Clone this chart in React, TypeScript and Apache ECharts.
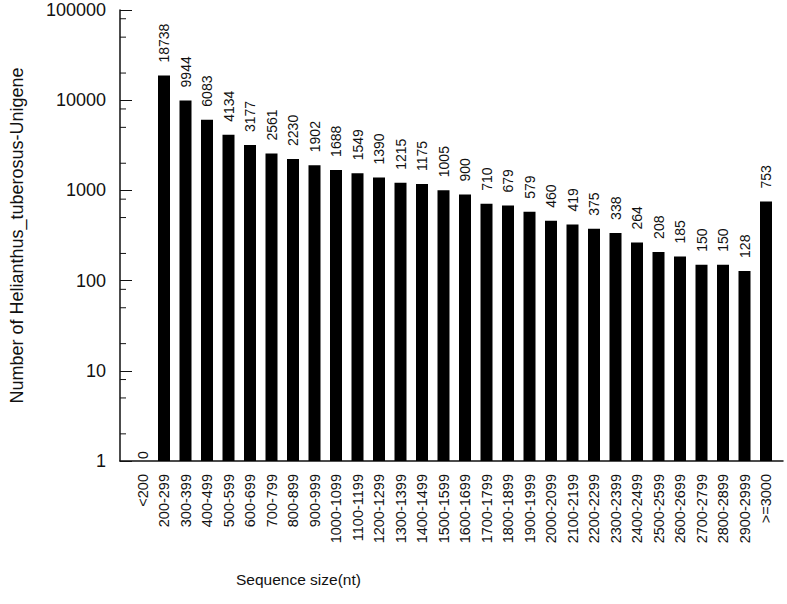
import React, { useEffect, useRef } from "react";
import * as echarts from "echarts";

const categories = [
  "<200", "200-299", "300-399", "400-499", "500-599", "600-699", "700-799",
  "800-899", "900-999", "1000-1099", "1100-1199", "1200-1299", "1300-1399",
  "1400-1499", "1500-1599", "1600-1699", "1700-1799", "1800-1899", "1900-1999",
  "2000-2099", "2100-2199", "2200-2299", "2300-2399", "2400-2499", "2500-2599",
  "2600-2699", "2700-2799", "2800-2899", "2900-2999", ">=3000",
];

const counts = [
  0, 18738, 9944, 6083, 4134, 3177, 2561, 2230, 1902, 1688, 1549, 1390, 1215,
  1175, 1005, 900, 710, 679, 579, 460, 419, 375, 338, 264, 208, 185, 150, 150,
  128, 753,
];

const minorTickValues = [
  2, 5, 8, 20, 50, 80, 200, 500, 800, 2000, 5000, 8000, 20000, 50000, 80000,
];

const yTitle = "Number of Helianthus_tuberosus-Unigene";
const xTitle = "Sequence size(nt)";

const FONT = "'Liberation Sans', Arial, Helvetica, sans-serif";
const INK = "#111";

export default function App() {
  const ref = useRef<HTMLDivElement>(null);

  useEffect(() => {
    if (!ref.current) return;
    const chart = echarts.init(ref.current, undefined, { renderer: "svg" });

    const barData = counts.map((v) =>
      v > 0 ? { value: v } : { value: 1, label: { distance: 2 } }
    );

    chart.setOption({
      animation: false,
      backgroundColor: "#fff",
      title: {
        text: xTitle,
        left: 236,
        top: 571,
        padding: 0,
        textStyle: { fontSize: 15.5, fontWeight: "normal", color: INK, fontFamily: FONT },
      },
      grid: [
        { left: 117, right: 4, top: 10, bottom: 143 },
        { left: 131.75, width: 645, top: 10, bottom: 143 },
      ],
      xAxis: [
        {
          type: "value",
          gridIndex: 0,
          min: 0,
          max: 1,
          axisLine: { show: true, onZero: false, lineStyle: { color: INK, width: 1.5 } },
          axisTick: { show: false },
          axisLabel: { show: false },
          splitLine: { show: false },
        },
        {
          type: "category",
          gridIndex: 1,
          data: categories,
          axisLine: { show: false },
          axisTick: { show: false },
          axisLabel: {
            rotate: 90,
            interval: 0,
            margin: 13,
            fontSize: 14.5,
            color: INK,
            fontFamily: FONT,
          },
          splitLine: { show: false },
        },
      ],
      yAxis: [
        {
          type: "log",
          gridIndex: 0,
          logBase: 10,
          min: 1,
          max: 100000,
          name: yTitle,
          nameLocation: "middle",
          nameGap: 94,
          nameTextStyle: { fontSize: 18, color: INK, fontFamily: FONT },
          axisLine: { show: true, lineStyle: { color: INK, width: 1.5 } },
          axisTick: { show: true, inside: true, length: 12, lineStyle: { color: INK } },
          axisLabel: {
            fontSize: 18,
            margin: 14,
            color: INK,
            fontFamily: FONT,
            formatter: (v: number) => String(Math.round(v)),
          },
          splitLine: { show: false },
        },
        {
          type: "log",
          gridIndex: 1,
          logBase: 10,
          min: 1,
          max: 100000,
          show: false,
          splitLine: { show: false },
        },
      ],
      series: [
        {
          type: "custom",
          xAxisIndex: 0,
          yAxisIndex: 0,
          silent: true,
          data: minorTickValues.map((v) => [0, v]),
          encode: { x: 0, y: 1 },
          renderItem: (params: any, api: any) => {
            const p = api.coord([0, api.value(1)]);
            return {
              type: "line",
              shape: { x1: p[0], y1: p[1], x2: p[0] + 6, y2: p[1] },
              style: { stroke: INK, lineWidth: 1 },
            };
          },
        },
        {
          type: "bar",
          xAxisIndex: 1,
          yAxisIndex: 1,
          barWidth: 12,
          data: barData,
          itemStyle: { color: "#000" },
          label: {
            show: true,
            position: "top",
            rotate: 90,
            align: "left",
            verticalAlign: "middle",
            distance: 13,
            fontSize: 14,
            color: INK,
            fontFamily: FONT,
            formatter: (p: any) => String(counts[p.dataIndex]),
          },
        },
      ],
    });

    return () => chart.dispose();
  }, []);

  return (
    <div
      ref={ref}
      style={{ position: "fixed", left: 0, top: 0, width: 787, height: 604 }}
    />
  );
}
